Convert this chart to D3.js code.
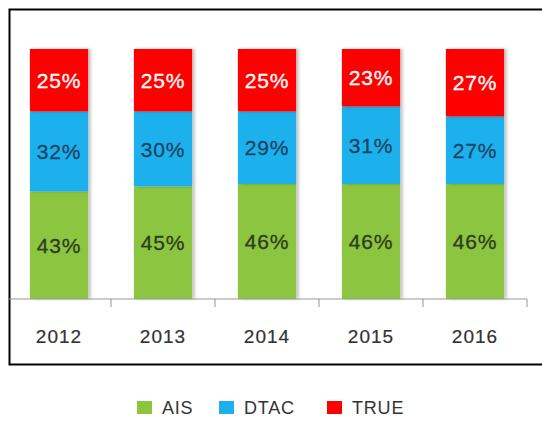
<!DOCTYPE html>
<html>
<head>
<meta charset="utf-8">
<script src="https://cdn.jsdelivr.net/npm/d3@7.9.0/dist/d3.min.js"></script>
<style>
  body { margin: 0; background: #fff; }
  svg { display: block; font-family: "Liberation Sans", Arial, sans-serif; }
</style>
</head>
<body>
<svg width="542" height="423"></svg>
<script>
const years = ['2012', '2013', '2014', '2015', '2016'];
const ais  = [43, 45, 46, 46, 46];
const dtac = [32, 30, 29, 31, 27];
const trueMove = [25, 25, 25, 23, 27];

const seriesNames = ['AIS', 'DTAC', 'TRUE'];
const colors = ['#8cc63f', '#1eb0ec', '#ff0000'];
const textColors = ['#2e3b1c', '#1c4466', '#ffffff'];

const rows = years.map((y, i) => ({ year: y, AIS: ais[i], DTAC: dtac[i], TRUE: trueMove[i] }));

const svg = d3.select('svg');

// frame (right side runs off the picture)
svg.append('path')
    .attr('d', 'M560,9.5 H9.5 V364.5 H560')
    .attr('fill', 'none')
    .attr('stroke', '#000')
    .attr('stroke-width', 2);

const x = d3.scaleBand().domain(years).range([7, 527]).paddingInner(0.44).paddingOuter(0.22);
const y = d3.scaleLinear().domain([0, 100]).range([299, 49]);

// soft shadow to the right of bars
const defs = svg.append('defs');
const f = defs.append('filter').attr('id', 'shadow').attr('x', '-10%').attr('width', '130%');
f.append('feDropShadow').attr('dx', 2.5).attr('dy', 0).attr('stdDeviation', 1.5)
    .attr('flood-color', '#000').attr('flood-opacity', 0.25);

const stack = d3.stack().keys(seriesNames)(rows);

const groups = svg.append('g').selectAll('g')
    .data(stack)
    .join('g')
    .attr('fill', (d, i) => colors[i]);

groups.selectAll('rect')
    .data(d => d)
    .join('rect')
    .attr('x', d => x(d.data.year))
    .attr('y', d => y(d[1]))
    .attr('width', x.bandwidth())
    .attr('height', d => y(d[0]) - y(d[1]))
    .attr('filter', 'url(#shadow)');

// labels
stack.forEach((s, si) => {
    svg.append('g').selectAll('text')
        .data(s)
        .join('text')
        .attr('x', d => x(d.data.year) + x.bandwidth() / 2)
        .attr('y', d => (y(d[0]) + y(d[1])) / 2)
        .attr('dy', '0.36em')
        .attr('text-anchor', 'middle')
        .attr('font-size', 21)
        .attr('letter-spacing', 0.8)
        .attr('fill', textColors[si])
        .attr('stroke', textColors[si])
        .attr('stroke-width', 0.3)
        .text(d => (d[1] - d[0]) + '%');
});

// x axis
const axis = svg.append('g').attr('transform', 'translate(0,299)');
axis.append('line')
    .attr('x1', 9).attr('x2', 527)
    .attr('stroke', '#999').attr('stroke-width', 1);
axis.selectAll('.tick')
    .data(d3.range(1, years.length + 1))
    .join('line')
    .attr('x1', i => 7 + i * x.step())
    .attr('x2', i => 7 + i * x.step())
    .attr('y1', 0).attr('y2', 8)
    .attr('stroke', '#999');
axis.selectAll('text')
    .data(years)
    .join('text')
    .attr('x', d => x(d) + x.bandwidth() / 2)
    .attr('y', 37.5)
    .attr('dy', '0.36em')
    .attr('text-anchor', 'middle')
    .attr('font-size', 19)
    .attr('letter-spacing', 1)
    .attr('fill', '#333')
    .attr('stroke', '#333')
    .attr('stroke-width', 0.2)
    .text(d => d);

// legend
const legendX = [137, 219, 327];
const legend = svg.append('g').selectAll('g')
    .data(seriesNames)
    .join('g')
    .attr('transform', (d, i) => `translate(${legendX[i]},401)`);
legend.append('rect')
    .attr('width', 15).attr('height', 13)
    .attr('fill', (d, i) => colors[i]);
legend.append('text')
    .attr('x', 25).attr('y', 6.5)
    .attr('dy', '0.36em')
    .attr('font-size', 18)
    .attr('letter-spacing', 0.8)
    .attr('fill', '#333')
    .text(d => d);
</script>
</body>
</html>
